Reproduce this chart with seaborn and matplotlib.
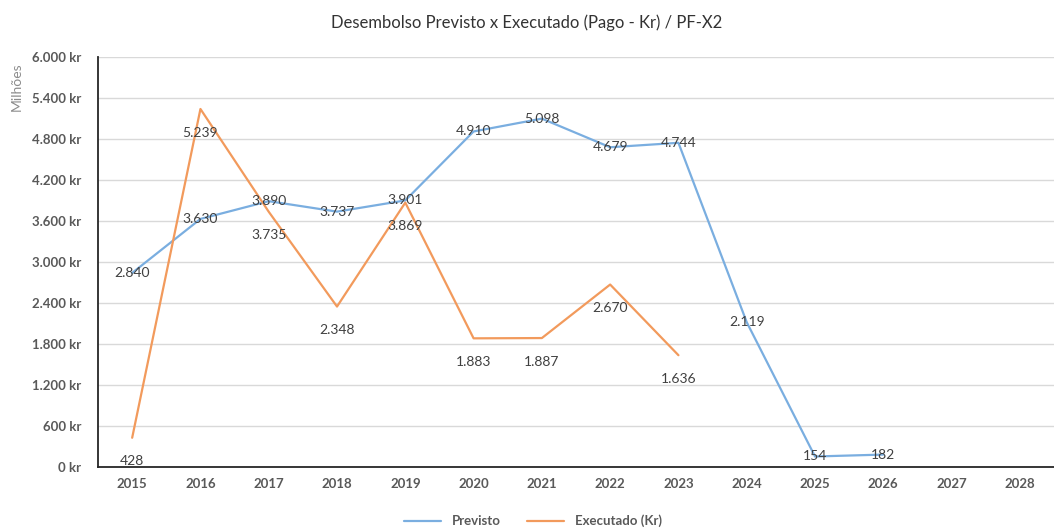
import numpy as np
import pandas as pd
import seaborn as sns
import matplotlib.pyplot as plt
from matplotlib.ticker import FuncFormatter, MultipleLocator

# Dados (milhares -> exibido em "Milhões" no eixo)
anos = ['2015', '2016', '2017', '2018', '2019', '2020', '2021',
        '2022', '2023', '2024', '2025', '2026', '2027', '2028']
previsto = [2840, 3630, 3890, 3737, 3901, 4910, 5098,
            4679, 4744, 2119, 154, 182, np.nan, np.nan]
executado = [428, 5239, 3735, 2348, 3869, 1883, 1887,
             2670, 1636, np.nan, np.nan, np.nan, np.nan, np.nan]

df = pd.DataFrame({'pos': range(len(anos)), 'Ano': anos,
                   'Previsto': previsto, 'Executado (Kr)': executado})
long_df = df.melt(id_vars=['pos', 'Ano'], var_name='Serie', value_name='Valor')

sns.set_style('white')
plt.rcParams['font.family'] = ['Lato', 'DejaVu Sans']

cores = {'Previsto': '#7aaee0', 'Executado (Kr)': '#f29a5c'}
cinza = '#595959'

fig = plt.figure(figsize=(10.54, 5.31), dpi=100)
ax = fig.add_axes([0.093, 0.1205, 0.907, 0.7722])

sns.lineplot(data=long_df, x='pos', y='Valor', hue='Serie', palette=cores,
             linewidth=1.6, ax=ax, legend=True)

# rótulos de dados
fmt = lambda v: f'{v:,.0f}'.replace(',', '.')
for x, v in zip(df['pos'], df['Previsto']):
    if not np.isnan(v):
        ax.text(x, v, fmt(v), ha='center', va='center', fontsize=10, color='#404040')
for x, v in zip(df['pos'], df['Executado (Kr)']):
    if not np.isnan(v):
        ax.annotate(fmt(v), (x, v), xytext=(0, -17), textcoords='offset points',
                    ha='center', va='center', fontsize=10, color='#404040')

ax.set_xlim(-0.5, len(anos) - 0.5)
ax.set_ylim(0, 6000)
ax.yaxis.set_major_locator(MultipleLocator(600))
ax.yaxis.set_major_formatter(FuncFormatter(lambda v, p: fmt(v) + ' kr'))
ax.set_xticks(df['pos'])
ax.set_xticklabels(anos)
ax.set_xticks(np.arange(-0.5, len(anos), 1), minor=True)

ax.grid(axis='y', color='#d9d9d9', linewidth=1)
ax.set_axisbelow(True)
for s in ['top', 'right']:
    ax.spines[s].set_visible(False)
for s in ['left', 'bottom']:
    ax.spines[s].set_color('#262626')
    ax.spines[s].set_linewidth(1.3)

ax.tick_params(axis='y', which='major', direction='inout', length=8, width=1.2,
               color='#262626', labelsize=9.5, labelcolor=cinza, pad=8)
ax.tick_params(axis='x', which='major', length=0, labelsize=9.5, labelcolor=cinza, pad=8)
ax.tick_params(axis='x', which='minor', direction='inout', length=8, width=1.2, color='#262626')
for lab in ax.get_xticklabels() + ax.get_yticklabels():
    lab.set_fontweight('bold')

ax.set_xlabel('')
ax.set_ylabel('')
fig.text(0.016, 0.836, 'Milhões', rotation=90, ha='center', va='center',
         fontsize=10, color='#8c8c8c')

fig.suptitle('Desembolso Previsto x Executado (Pago - Kr) / PF-X2',
             x=0.5, y=0.958, va='center', fontsize=12, color='#333333')

leg = ax.legend(loc='center', bbox_to_anchor=(0.455, -0.132), ncol=2,
                frameon=False, fontsize=9.5, handlelength=2.8, columnspacing=2)
for t in leg.get_texts():
    t.set_color(cinza)
    t.set_fontweight('bold')

plt.savefig('out.png', dpi=100)
plt.close()
